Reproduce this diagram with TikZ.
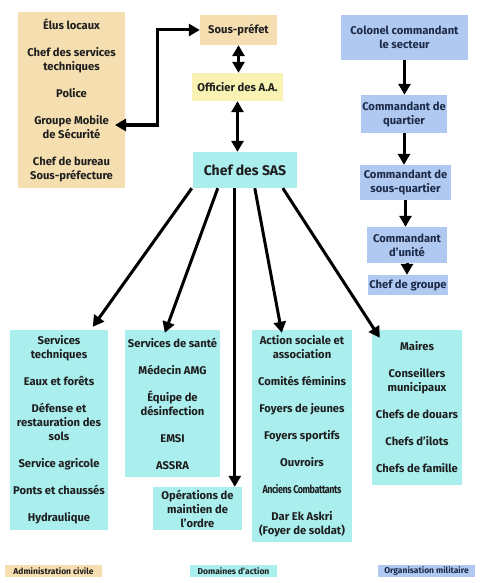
\documentclass[tikz,border=0pt]{standalone}
\usepackage{fontspec}
\setmainfont{Fira Sans}
\usepackage{graphicx}
\usetikzlibrary{arrows.meta,calc}
\definecolor{tanbox}{HTML}{F5DEB0}
\definecolor{yelbox}{HTML}{F8F3B2}
\definecolor{cyanbox}{HTML}{AAEEEE}
\definecolor{bluebox}{HTML}{AFC9F1}
\definecolor{txt}{HTML}{1E1E1E}
\definecolor{bluetxt}{HTML}{1C2A48}
\begin{document}
\begin{tikzpicture}[x=1pt,y=-1pt,
  box/.style={inner sep=0pt, align=center, text=txt,
    font=\bfseries\fontsize{11.2}{14}\selectfont},
  civ/.style={box, fill=tanbox},
  act/.style={box, fill=cyanbox},
  mil/.style={box, fill=bluebox, text=bluetxt},
  legbox/.style={inner sep=0pt, align=center, text=txt,
    font=\bfseries\fontsize{8.5}{9}\selectfont, minimum height=12pt},
  con/.style={line width=3pt, -{Triangle[length=11pt,width=12pt]}},
  dcon/.style={line width=3pt, {Triangle[length=11pt,width=12pt]}-{Triangle[length=11pt,width=12pt]}}]
\useasboundingbox (0,0) rectangle (484,583);
\fill[white] (0,0) rectangle (484,583);

% civil administration
\node[civ, minimum width=107pt, minimum height=176pt] (civil) at (71.5,100)
  {Élus locaux\\[13pt]Chef des services\\techniques\\[13pt]Police\\[13pt]Groupe Mobile\\de Sécurité\\[13pt]Chef de bureau\\Sous-préfecture};
\node[civ, minimum width=77pt, minimum height=30pt] (sp) at (238.5,30) {Sous-préfet};
\node[box, fill=yelbox, minimum width=91pt, minimum height=28pt] (off) at (237.5,87) {Officier des A.A.};
\node[act, minimum width=104pt, minimum height=36pt, font=\bfseries\fontsize{14}{16}\selectfont] (sas) at (245,170) {Chef des SAS};

% military
\node[mil, minimum width=127pt, minimum height=45pt] (col) at (404.5,37.5) {Colonel commandant\\le secteur};
\node[mil, minimum width=86pt, minimum height=38pt] (cq) at (404,114) {Commandant de\\quartier};
\node[mil, minimum width=91pt, minimum height=35pt] (csq) at (405.5,182.5) {Commandant de\\sous-quartier};
\node[mil, minimum width=80pt, minimum height=36pt] (cu) at (407,245) {Commandant\\d’unité};
\node[mil, minimum width=80pt, minimum height=20pt] (cg) at (408,285) {Chef de groupe};

% domains of action
\node[act, minimum width=98pt, minimum height=200pt] (tech) at (59,430)
  {Services\\techniques\\[13pt]Eaux et forêts\\[13pt]Défense et\\restauration des\\sols\\[13pt]Service agricole\\[13pt]Ponts et chaussés\\[13pt]Hydraulique};
\node[act, minimum width=95pt, minimum height=147pt] (sante) at (172.5,403.5)
  {Services de santé\\[13pt]Médecin AMG\\[13pt]Équipe de\\désinfection\\[13pt]EMSI\\[13pt]ASSRA};
\node[act, minimum width=89pt, minimum height=43pt] (ops) at (197.5,508.5)
  {Opérations de\\maintien de\\l’ordre};
\node[act, minimum width=100pt, minimum height=212pt] (soc) at (302,436)
  {Action sociale et\\association\\[13pt]Comités féminins\\[13pt]Foyers de jeunes\\[13pt]Foyers sportifs\\[13pt]Ouvroirs\\[13pt]\scalebox{0.8}[1]{\addfontfeature{LetterSpace=-5}Anciens Combattants}\\[13pt]Dar Ek Askri\\(Foyer de soldat)};
\node[act, minimum width=90pt, minimum height=155pt] (mai) at (417,407.5)
  {Maires\\[13pt]Conseillers\\municipaux\\[13pt]Chefs de douars\\[13pt]Chefs d’ilots\\[13pt]Chefs de famille};

% legend
\node[legbox, fill=tanbox, minimum width=97pt] (leg1) at (53.5,571) {Administration civile};
\node[legbox, fill=cyanbox, minimum width=87pt] (leg2) at (233.5,571) {Domaines d’action};
\node[legbox, fill=bluebox, minimum width=97pt, text=bluetxt] (leg3) at (426.5,571) {Organisation militaire};

% connectors
\coordinate (gms) at (115,125);
\coordinate (bend) at (157,125);
\draw[dcon] (gms) -- (bend) |- (sp.west);
\draw[dcon] (sp.south) -- (sp.south |- off.north);
\draw[dcon] (off.south) -- (off.south |- sas.north);

\draw[con] (col.south) -- (col.south |- cq.north);
\draw[con] (cq.south) -- (cq.south |- csq.north);
\draw[con] (csq.south) -- (csq.south |- cu.north);
\draw[con] (cu.south) -- (cu.south |- cg.north);

\coordinate (s1) at ($(sas.south west)+(-1,0)$);
\coordinate (s2) at ($(sas.south west)+(25,0)$);
\coordinate (s3) at ($(sas.south west)+(42,0)$);
\coordinate (s4) at ($(sas.south west)+(62,0)$);
\coordinate (s5) at ($(sas.south west)+(90,0)$);
\draw[con] (s1) -- ($(tech.north west)+(83,-3)$);
\draw[con] (s2) -- ($(sante.north west)+(40,3)$);
\draw[con] (s3) -- (s3 |- ops.north);
\draw[con] (s4) -- ($(soc.north west)+(30,3)$);
\draw[con] (s5) -- ($(mai.north west)+(8,8)$);
\end{tikzpicture}
\end{document}
